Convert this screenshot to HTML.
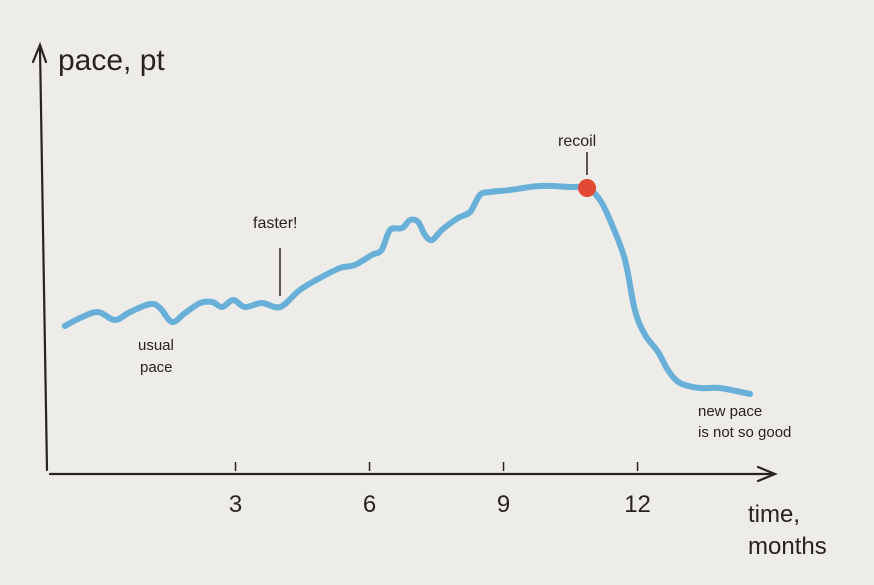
<!DOCTYPE html>
<html><head><meta charset="utf-8"><style>
body{margin:0;background:#edece9}
svg{display:block}
text{font-family:"Liberation Sans",sans-serif;fill:#2a221c}
</style></head><body>
<svg id="chart" width="874" height="585" viewBox="0 0 874 585">
<rect width="874" height="585" fill="#edece9"/>
<g id="axes" stroke="#2a221c" stroke-width="2.2" fill="none" stroke-linecap="round">
<path d="M47 470 L40 48"/>
<path d="M33 62 L40 45 L46 62"/>
<path d="M50 474 L773 474"/>
<path d="M758 467 L775 474 L758 481"/>
</g>
<text x="58" y="70" font-size="30">pace, pt</text>
<text x="748" y="522" font-size="24">time,</text>
<text x="748" y="554" font-size="24">months</text>
<g id="ticks"></g>
<path id="line" fill="none" stroke="#68b0d8" stroke-width="6" stroke-linecap="round" stroke-linejoin="round"/>
<circle id="dot" r="9" fill="#e24a35"/>
<g stroke="#2a221c" stroke-width="1.5">
<line x1="280" y1="248" x2="280" y2="296"/>
<line x1="587" y1="152" x2="587" y2="175"/>
</g>
<text x="138" y="350" font-size="15">usual</text>
<text x="140" y="372" font-size="15">pace</text>
<text x="253" y="228" font-size="16">faster!</text>
<text x="558" y="146" font-size="16">recoil</text>
<text x="698" y="416" font-size="15">new pace</text>
<text x="698" y="437" font-size="15">is not so good</text>
</svg>
<script>
const months=[-0.82,-0.48,-0.08,0.30,0.64,1.09,1.31,1.58,1.87,2.21,2.48,2.70,2.95,3.21,3.59,4.0,4.44,4.89,5.34,5.67,6.05,6.27,6.46,6.73,6.91,7.09,7.24,7.40,7.62,7.98,8.25,8.47,8.70,9.14,9.82,10.49,10.87,11.16,11.43,11.72,11.94,12.17,12.46,12.68,12.95,13.40,13.84,14.52];
const pace=[36,38,39.5,37.5,39.5,41.5,40.5,37,39.25,41.75,42,40.75,42.5,40.75,41.75,40.75,45,48,50.5,51.25,53.75,55,60,60.5,62.5,62,58.75,57.5,60,63,64.5,68.75,69.5,70,71,70.75,70.5,67.5,61.25,52.5,40,33.75,29.5,25,21.75,20.5,20.5,19];
const tickMonths=[3,6,9,12];
const tickLabels=["3","6","9","12"];
const recoilMonth=10.87, recoilPace=70.5;
const xs=m=>101.5+44.67*m;
const ys=v=>470-v*4;
const pts=months.map((m,i)=>[xs(m),ys(pace[i])]);
let d="M"+pts[0][0]+" "+pts[0][1];
for(let i=0;i<pts.length-1;i++){
 const p0=pts[Math.max(0,i-1)],p1=pts[i],p2=pts[i+1],p3=pts[Math.min(pts.length-1,i+2)];
 const c1=[p1[0]+(p2[0]-p0[0])/6,p1[1]+(p2[1]-p0[1])/6];
 const c2=[p2[0]-(p3[0]-p1[0])/6,p2[1]-(p3[1]-p1[1])/6];
 d+=" C"+c1.join(" ")+" "+c2.join(" ")+" "+p2.join(" ");
}
document.getElementById('line').setAttribute('d',d);
const dot=document.getElementById('dot');
dot.setAttribute('cx',xs(recoilMonth));dot.setAttribute('cy',ys(recoilPace));
const g=document.getElementById('ticks');
const NS="http://www.w3.org/2000/svg";
tickMonths.forEach((m,i)=>{
 const l=document.createElementNS(NS,'line');
 l.setAttribute('x1',xs(m));l.setAttribute('x2',xs(m));l.setAttribute('y1',462);l.setAttribute('y2',471);
 l.setAttribute('stroke','#2a221c');l.setAttribute('stroke-width','1.5');
 
 
 g.appendChild(l);
 const t=document.createElementNS(NS,'text');
 t.setAttribute('x',xs(m));t.setAttribute('y',512);t.setAttribute('font-size','24');t.setAttribute('text-anchor','middle');
 t.textContent=tickLabels[i];
 
 
 g.appendChild(t);
});
</script>
</body></html>
